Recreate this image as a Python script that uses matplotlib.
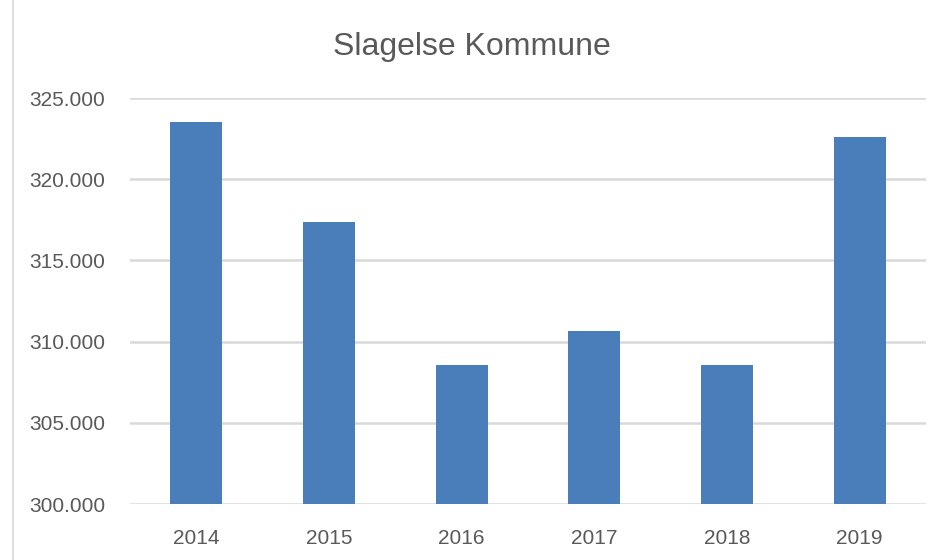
import matplotlib.pyplot as plt
from matplotlib.lines import Line2D
from matplotlib.ticker import FuncFormatter

years = ['2014', '2015', '2016', '2017', '2018', '2019']
values = [323500, 317350, 308550, 310650, 308550, 322600]

plt.rcParams['font.family'] = ['Liberation Sans', 'DejaVu Sans']
txt = '#595959'
grid = '#D9D9D9'

fig = plt.figure(figsize=(9.44, 5.6), dpi=100)
ax = fig.add_axes([0.1377, 0.1, 0.8432, 0.725])

ax.bar(range(len(years)), values, width=0.39, color='#4A7EBB', zorder=3)
ax.set_xlim(-0.5, len(years) - 0.5)
ax.set_ylim(300000, 325000)
ax.set_yticks(range(300000, 325001, 5000))
ax.yaxis.set_major_formatter(FuncFormatter(lambda v, p: f'{int(v):,}'.replace(',', '.')))
ax.set_xticks(range(len(years)))
ax.set_xticklabels(years)

ax.grid(axis='y', color=grid, linewidth=1.8, zorder=0)
for s in ax.spines.values():
    s.set_visible(False)
ax.tick_params(axis='both', length=0, labelsize=15, colors=txt)
ax.tick_params(axis='y', pad=18)
ax.tick_params(axis='x', pad=18)

fig.suptitle('Slagelse Kommune', x=0.5, y=0.942, fontsize=23, color=txt)
fig.add_artist(Line2D([13 / 944, 13 / 944], [0, 1], color=grid, linewidth=1.2))

fig.savefig('out.png', dpi=100)
